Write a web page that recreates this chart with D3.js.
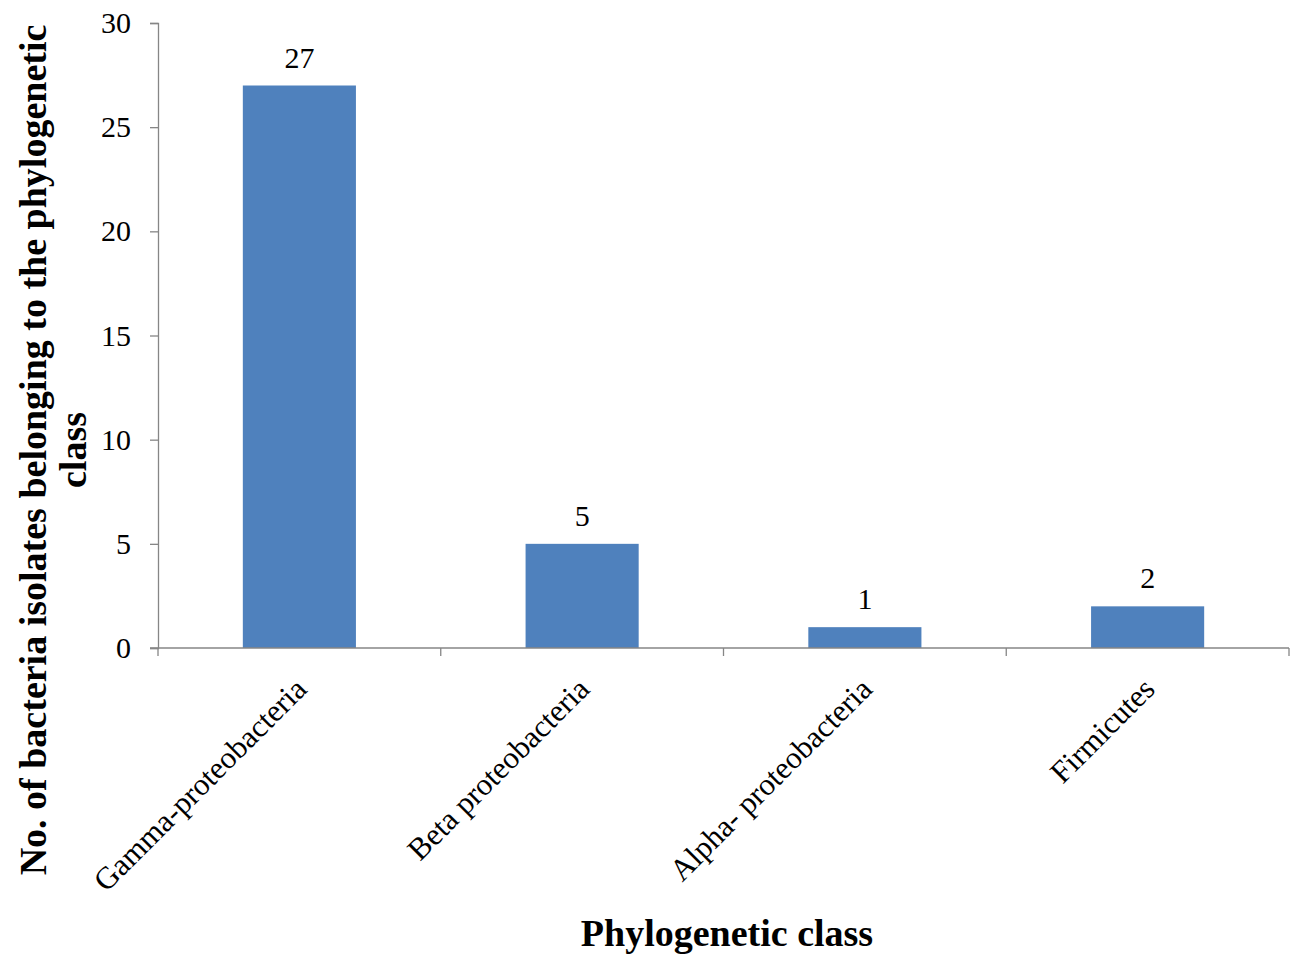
<!DOCTYPE html>
<html>
<head>
<meta charset="utf-8">
<script src="https://cdn.jsdelivr.net/npm/d3@7"></script>
<style>
  html, body { margin: 0; padding: 0; background: #ffffff; }
  svg { display: block; font-family: "Liberation Serif", "Times New Roman", serif; }
</style>
</head>
<body>
<svg id="chart" width="1302" height="956"></svg>
<script>
// Isolates per phylogenetic class
const categories = ["Gamma-proteobacteria", "Beta proteobacteria", "Alpha- proteobacteria", "Firmicutes"];
const counts = [27, 5, 1, 2];
const yTicks = [0, 5, 10, 15, 20, 25, 30];

const svg = d3.select("#chart");
const margin = { left: 158, right: 12, top: 23, bottom: 307 };
const W = 1302, H = 956;

const x = d3.scaleBand()
  .domain(categories)
  .range([margin.left, W - margin.right - 1])
  .paddingInner(0.6)
  .paddingOuter(0.3);

const y = d3.scaleLinear()
  .domain([0, 30])
  .range([H - margin.bottom - 1, margin.top]);

const axisColor = "#868686";

// Bars
svg.append("g")
  .selectAll("rect")
  .data(categories)
  .join("rect")
  .attr("x", d => x(d))
  .attr("y", (d, i) => y(counts[i]))
  .attr("width", x.bandwidth())
  .attr("height", (d, i) => y(0) - y(counts[i]))
  .attr("fill", "#4f81bd");

// Value labels
svg.append("g")
  .selectAll("text")
  .data(categories)
  .join("text")
  .attr("x", d => x(d) + x.bandwidth() / 2)
  .attr("y", (d, i) => y(counts[i]) - 18)
  .attr("text-anchor", "middle")
  .attr("font-size", 30)
  .attr("fill", "#000")
  .text((d, i) => counts[i]);

// Y axis
const yAxis = svg.append("g")
  .attr("transform", `translate(${margin.left},0)`)
  .call(d3.axisLeft(y).tickValues(yTicks).tickSize(8).tickPadding(19));
yAxis.select(".domain").attr("stroke", axisColor).attr("stroke-width", 1.3);
yAxis.selectAll(".tick line").attr("stroke", axisColor).attr("stroke-width", 1.3);
yAxis.selectAll(".tick text")
  .attr("font-family", "Liberation Serif, Times New Roman, serif")
  .attr("font-size", 30)
  .attr("fill", "#000");

// X axis with category boundary ticks
const xAxisG = svg.append("g").attr("transform", `translate(0,${y(0)})`);
const step = x.step();
const boundaries = d3.range(categories.length + 1).map(i => margin.left + i * step);
xAxisG.append("line")
  .attr("x1", boundaries[0] - 8).attr("x2", boundaries[boundaries.length - 1])
  .attr("stroke", axisColor).attr("stroke-width", 1.3);
xAxisG.selectAll("line.tk")
  .data(boundaries)
  .join("line")
  .attr("class", "tk")
  .attr("x1", d => d).attr("x2", d => d)
  .attr("y1", 0).attr("y2", 8)
  .attr("stroke", axisColor).attr("stroke-width", 1.3);

// Rotated category labels
xAxisG.selectAll("text.cat")
  .data(categories)
  .join("text")
  .attr("class", "cat")
  .attr("text-anchor", "end")
  .attr("font-size", 31)
  .attr("fill", "#000")
  .attr("transform", d => `translate(${x(d) + x.bandwidth() / 2 + 9},${43}) rotate(-45)`)
  .text(d => d);

// Axis titles
svg.append("text")
  .attr("x", 727)
  .attr("y", 946)
  .attr("text-anchor", "middle")
  .attr("font-size", 38)
  .attr("font-weight", "bold")
  .text("Phylogenetic class");

const yTitle = svg.append("text")
  .attr("transform", "translate(46,450) rotate(-90)")
  .attr("text-anchor", "middle")
  .attr("font-size", 38)
  .attr("font-weight", "bold");
yTitle.append("tspan").attr("x", 0).attr("dy", 0)
  .text("No. of bacteria isolates belonging to the phylogenetic");
yTitle.append("tspan").attr("x", 0).attr("dy", 40)
  .text("class");
</script>
</body>
</html>
